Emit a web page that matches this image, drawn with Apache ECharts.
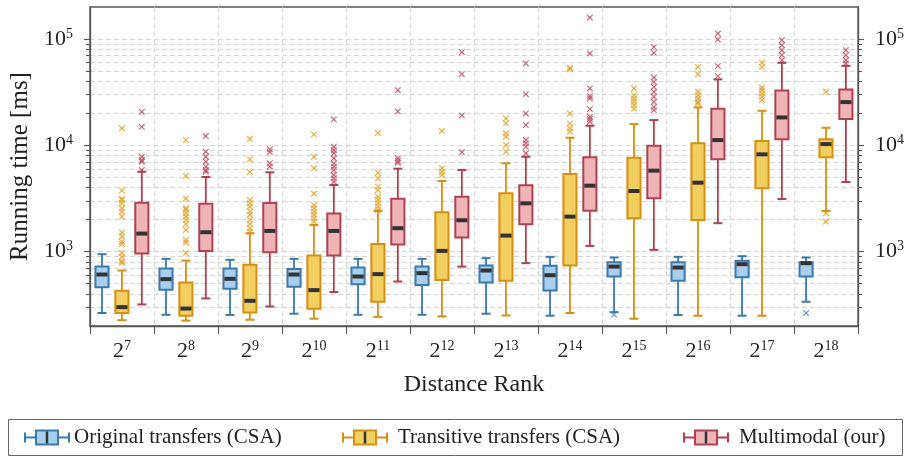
<!DOCTYPE html>
<html>
<head>
<meta charset="utf-8">
<script src="https://cdn.jsdelivr.net/npm/echarts@6/dist/echarts.min.js"></script>
<style>
  html, body { margin: 0; padding: 0; background: #fff; }
  #chart { width: 908px; height: 459px; }
</style>
</head>
<body>
<div id="chart"></div>
<script>
// Distance-rank exponents (x axis shows 2^k)
const rankExponents = ['7', '8', '9', '10', '11', '12', '13', '14', '15', '16', '17', '18'];

// Labelled decades on the running-time axis
const majorTicks = [1000, 10000, 100000];
// Every decade subdivision (2..9 x 10^n) for ticks and grid
const minorTicks = [
  300, 400, 500, 600, 700, 800, 900, 1000,
  2000, 3000, 4000, 5000, 6000, 7000, 8000, 9000, 10000,
  20000, 30000, 40000, 50000, 60000, 70000, 80000, 90000, 100000
];

// Box statistics per rank: [lower whisker, Q1, median, Q3, upper whisker] in ms
const originalBoxes = [
  [265, 464, 610, 724, 947],
  [255, 438, 552, 694, 856],
  [254, 447, 555, 694, 838],
  [261, 467, 610, 689, 856],
  [255, 495, 584, 709, 856],
  [255, 485, 628, 724, 856],
  [261, 513, 665, 740, 869],
  [250, 431, 601, 736, 894],
  [270, 584, 724, 797, 881],
  [254, 532, 709, 797, 894],
  [250, 576, 763, 820, 907],
  [338, 584, 780, 797, 881]
];
const originalOutliers = [
  [], [], [], [], [], [], [], [], [256], [], [], [265]
];

const transitiveBoxes = [
  [227, 265, 301, 428, 665],
  [225, 250, 292, 513, 825],
  [229, 268, 345, 752, 1492],
  [234, 290, 435, 919, 1785],
  [244, 338, 615, 1184, 2415],
  [246, 543, 1017, 2350, 4620],
  [251, 532, 1416, 3540, 6780],
  [265, 740, 2136, 5380, 11780],
  [234, 2063, 3720, 7650, 15850],
  [250, 1990, 4456, 10440, 22740],
  [250, 3950, 8230, 10970, 21130],
  [2415, 7710, 10280, 11380, 14620]
];
const transitiveOutliers = [
  [14450, 3750, 3130, 3070, 2850, 2560, 2380, 2140, 1510, 1390, 1240, 1180, 970, 890, 810, 780],
  [11200, 5150, 3150, 2560, 2470, 2300, 2140, 1990, 1820, 1600, 1290, 1220, 970],
  [11530, 7380, 5610, 3070, 2850, 2650, 2380, 2220, 1990, 1820, 1660, 1540],
  [12680, 7810, 6080, 3510, 2750, 2560, 2380, 2220, 2060, 1920],
  [13040, 5530, 4900, 4090, 3800, 3290, 3070, 2850, 2650, 2470],
  [13620, 6080, 5650, 5260],
  [17930, 16100, 12970, 12050, 10070, 8710],
  [53500, 52000, 19970, 16100, 14450, 13430],
  [34300, 29650, 27620, 25660, 23900, 22250],
  [54700, 46700, 31850, 29650, 27620, 25660, 24780],
  [59700, 54700, 35060, 33040, 30740, 28600, 26630],
  [31850, 2300, 1920]
];

const multimodalBoxes = [
  [319, 960, 1479, 2890, 5650],
  [363, 1017, 1524, 2830, 5040],
  [305, 990, 1567, 2872, 5575],
  [417, 919, 1567, 2280, 4237],
  [524, 1166, 1663, 3153, 6030],
  [724, 1357, 1976, 3290, 5860],
  [780, 1812, 2850, 4210, 7810],
  [1133, 2432, 4175, 7710, 15280],
  [1040, 3180, 5780, 9910, 17280],
  [1853, 7380, 11210, 22070, 41700],
  [3130, 11380, 18310, 32820, 59700],
  [4520, 17660, 25490, 33560, 55900]
];
const multimodalOutliers = [
  [20700, 14950, 7810, 7280, 7010, 5860],
  [12230, 8710, 7810, 7010, 6300, 5860, 5650],
  [9170, 8650, 6780, 6300],
  [17540, 9700, 9030, 8410, 7550, 6780, 6300, 5860, 5260, 4900, 4550],
  [33040, 20860, 7550, 7160, 6870],
  [75200, 46700, 19130, 8600],
  [58900, 30300, 19970, 15520, 11210, 10440, 9700, 8410],
  [159000, 73100, 34300, 29000, 27620, 21900, 18550, 17660, 16680],
  [83900, 74100, 43500, 39500, 35450, 31850, 28600, 25660, 23000, 21450],
  [112500, 98800, 55600, 44770],
  [97500, 87400, 78500, 70500, 63200],
  [78500, 70500, 63200, 58900]
];

const SERIF = "'Liberation Serif', 'DejaVu Serif', serif";
const AXIS_COLOR = '#555';
const GRID_COLOR = '#d6d6d6';
const TEXT_COLOR = '#222';

// Box geometry as fractions of one category band
const SLOT_STEP = 0.311;
const BOX_WIDTH = 0.205;
const CAP_WIDTH = 0.14;

const groups = [
  { name: 'Original transfers (CSA)', slot: -1, stroke: '#3a78ad', fill: '#a8cfee', mark: '#4c8cc4',
    boxes: originalBoxes, outliers: originalOutliers },
  { name: 'Transitive transfers (CSA)', slot: 0, stroke: '#d68f10', fill: '#f1cf62', mark: '#e2a126',
    boxes: transitiveBoxes, outliers: transitiveOutliers },
  { name: 'Multimodal (our)', slot: 1, stroke: '#b2404f', fill: '#f0b4b7', mark: '#c24f5f',
    boxes: multimodalBoxes, outliers: multimodalOutliers }
];

function bandWidth(api, v) {
  return api.coord([1, v])[0] - api.coord([0, v])[0];
}

function boxRenderer(g) {
  return function (params, api) {
    const cat = api.value(0);
    const med = api.value(3);
    const band = bandWidth(api, med);
    const cx = api.coord([cat, med])[0] + g.slot * SLOT_STEP * band;
    const y = [1, 2, 3, 4, 5].map(function (d) { return api.coord([cat, api.value(d)])[1]; });
    const bw = BOX_WIDTH * band;
    const cw = CAP_WIDTH * band;
    const whisker = { stroke: g.stroke, lineWidth: 1.8 };
    return {
      type: 'group',
      children: [
        { type: 'line', shape: { x1: cx, y1: y[0], x2: cx, y2: y[1] }, style: whisker },
        { type: 'line', shape: { x1: cx, y1: y[3], x2: cx, y2: y[4] }, style: whisker },
        { type: 'line', shape: { x1: cx - cw / 2, y1: y[0], x2: cx + cw / 2, y2: y[0] }, style: { stroke: g.stroke, lineWidth: 2 } },
        { type: 'line', shape: { x1: cx - cw / 2, y1: y[4], x2: cx + cw / 2, y2: y[4] }, style: { stroke: g.stroke, lineWidth: 2 } },
        { type: 'rect', shape: { x: cx - bw / 2, y: y[3], width: bw, height: y[1] - y[3] },
          style: { fill: g.fill, stroke: g.stroke, lineWidth: 2 } },
        { type: 'line', shape: { x1: cx - bw / 2 + 1, y1: y[2], x2: cx + bw / 2 - 1, y2: y[2] },
          style: { stroke: '#333', lineWidth: 4 } }
      ]
    };
  };
}

function outlierRenderer(g) {
  return function (params, api) {
    const cat = api.value(0);
    const v = api.value(1);
    const band = bandWidth(api, v);
    const p = api.coord([cat, v]);
    const cx = p[0] + g.slot * SLOT_STEP * band;
    const r = 2.8;
    const st = { stroke: g.mark, lineWidth: 1.2, opacity: 0.85 };
    return {
      type: 'group',
      children: [
        { type: 'line', shape: { x1: cx - r, y1: p[1] - r, x2: cx + r, y2: p[1] + r }, style: st },
        { type: 'line', shape: { x1: cx - r, y1: p[1] + r, x2: cx + r, y2: p[1] - r }, style: st }
      ]
    };
  };
}

const series = [];
groups.forEach(function (g) {
  const outlierData = [];
  g.outliers.forEach(function (list, i) {
    list.forEach(function (v) { outlierData.push([i, v]); });
  });
  series.push({
    type: 'custom', name: g.name + ' outliers', renderItem: outlierRenderer(g),
    encode: { x: 0, y: 1 }, data: outlierData, z: 2, silent: true
  });
});
groups.forEach(function (g) {
  series.push({
    type: 'custom', name: g.name, renderItem: boxRenderer(g),
    encode: { x: 0, y: [1, 2, 3, 4, 5] },
    data: g.boxes.map(function (b, i) { return [i].concat(b); }),
    z: 3, silent: true
  });
});

const supRich = {
  b: { fontFamily: SERIF, fontSize: 22, color: TEXT_COLOR, lineHeight: 24 },
  e: { fontFamily: SERIF, fontSize: 14, color: TEXT_COLOR, lineHeight: 14, verticalAlign: 'top' }
};

const powerLabel = {
  formatter: function (v) {
    const e = Math.round(Math.log10(v));
    return '{b|10}{e|' + e + '}';
  },
  rich: supRich
};

function logAxis(position, showLine, ticks, tickLen, labels, grid) {
  return {
    type: 'log', logBase: 10, min: 200, max: 200000, position: position,
    axisLine: { show: showLine, lineStyle: { color: AXIS_COLOR, width: 1.3 } },
    axisTick: { show: true, customValues: ticks, length: tickLen, lineStyle: { color: AXIS_COLOR, width: 1.1 } },
    axisLabel: labels ? Object.assign({ show: true, customValues: majorTicks, margin: 17 }, powerLabel) : { show: false },
    splitLine: { show: grid, lineStyle: { color: GRID_COLOR, type: [5, 3], width: 1 } },
    minorTick: { show: false }, minorSplitLine: { show: false }
  };
}

const legendGraphics = [];
legendGraphics.push({
  type: 'rect', shape: { x: 8.5, y: 419.5, width: 894, height: 36 },
  style: { fill: 'none', stroke: '#666', lineWidth: 1 }
});
const legendSlots = [
  { center: 47, textX: 74 },
  { center: 365, textX: 398 },
  { center: 706, textX: 739 }
];
groups.forEach(function (g, i) {
  const c = legendSlots[i].center, cy = 437.5;
  legendGraphics.push(
    { type: 'line', shape: { x1: c - 22, y1: cy, x2: c + 22, y2: cy }, style: { stroke: g.stroke, lineWidth: 1.8 } },
    { type: 'line', shape: { x1: c - 22, y1: cy - 5, x2: c - 22, y2: cy + 5 }, style: { stroke: g.stroke, lineWidth: 2 } },
    { type: 'line', shape: { x1: c + 22, y1: cy - 5, x2: c + 22, y2: cy + 5 }, style: { stroke: g.stroke, lineWidth: 2 } },
    { type: 'rect', shape: { x: c - 11, y: cy - 7, width: 22, height: 14 }, style: { fill: g.fill, stroke: g.stroke, lineWidth: 2 } },
    { type: 'line', shape: { x1: c, y1: cy - 6, x2: c, y2: cy + 6 }, style: { stroke: '#333', lineWidth: 2.5 } },
    { type: 'text', x: legendSlots[i].textX, y: cy,
      style: { text: g.name, fontFamily: SERIF, fontSize: 21, fill: TEXT_COLOR, verticalAlign: 'middle', align: 'left' } }
  );
});

const chart = echarts.init(document.getElementById('chart'), null, { renderer: 'canvas' });
chart.setOption({
  animation: false,
  backgroundColor: '#fff',
  grid: { left: 87, right: 50, top: 7, bottom: 133, show: true, borderColor: AXIS_COLOR, borderWidth: 1.3, backgroundColor: 'transparent' },
  xAxis: [{
    type: 'category', data: rankExponents, position: 'bottom', boundaryGap: true,
    axisLine: { show: true, lineStyle: { color: AXIS_COLOR, width: 1.3 } },
    axisTick: { show: true, interval: 0, alignWithLabel: false, length: 8, lineStyle: { color: AXIS_COLOR, width: 1.1 } },
    axisLabel: {
      interval: 0,
      margin: 13,
      formatter: function (v) { return '{b|2}{e|' + v + '}'; },
      rich: supRich
    },
    splitLine: { show: true, interval: 0, lineStyle: { color: GRID_COLOR, type: [5, 3], width: 1 } },
    name: 'Distance Rank', nameLocation: 'middle', nameGap: 47,
    nameTextStyle: { fontFamily: SERIF, fontSize: 24, color: TEXT_COLOR }
  }],
  yAxis: [
    Object.assign(logAxis('left', true, majorTicks, 6, true, false), {
      name: 'Running time [ms]', nameLocation: 'middle', nameGap: 56,
      nameTextStyle: { fontFamily: SERIF, fontSize: 25, color: TEXT_COLOR }
    }),
    logAxis('left', false, minorTicks, 4, false, true),
    logAxis('right', true, majorTicks, 6, true, false),
    logAxis('right', false, minorTicks, 4, false, false)
  ],
  series: series,
  graphic: legendGraphics
});
</script>
</body>
</html>
